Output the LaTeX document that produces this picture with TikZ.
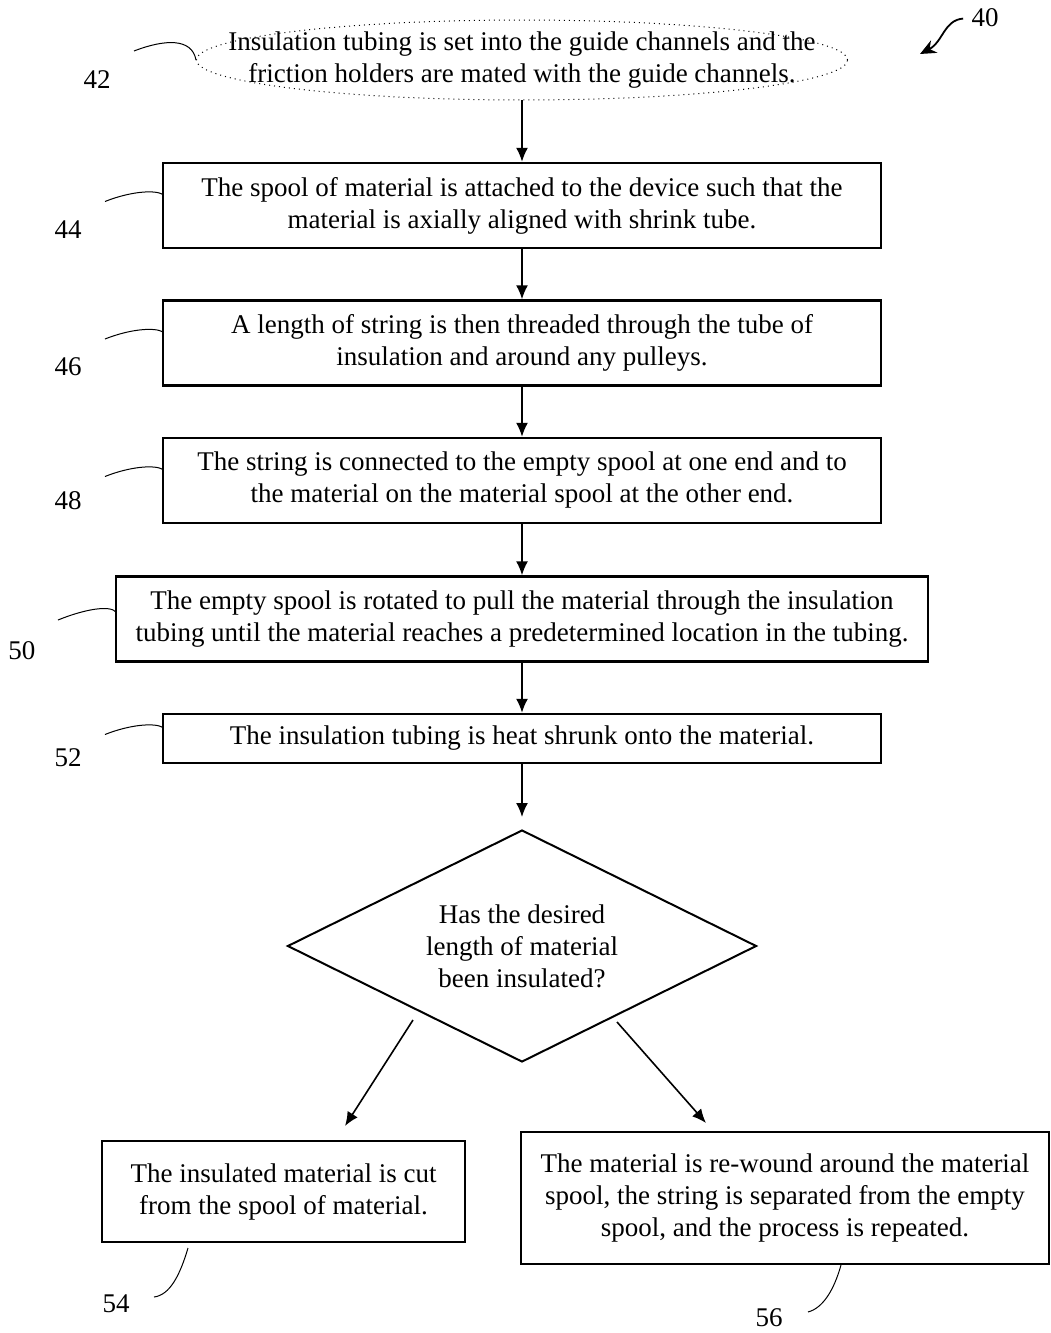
\documentclass[tikz,border=0pt]{standalone}
\usepackage{fontspec}
\setmainfont{Liberation Serif}
\usetikzlibrary{shapes.geometric,arrows.meta}

\tikzset{
  stepbox/.style={draw,line width=1.2pt,align=center,minimum height=42.5pt,
    font=\fontsize{13.5}{16}\selectfont},
  startnode/.style={draw,ellipse,dotted,line width=0.5pt,align=center,
    inner xsep=-50pt,inner ysep=0pt,minimum width=325.5pt,minimum height=39pt,
    font=\fontsize{13.5}{16}\selectfont},
  decision/.style={draw,diamond,line width=1pt,align=center,inner sep=0pt,aspect=2,
    minimum width=234.5pt,minimum height=116pt,font=\fontsize{13.5}{16}\selectfont},
  flow/.style={-{Latex[length=7pt,width=6pt]},line width=0.8pt},
  lead/.style={line width=0.5pt},
  refnum/.style={font=\fontsize{13.5}{14}\selectfont,inner sep=0pt}
}

\begin{document}
\begin{tikzpicture}[x=0.5pt,y=-0.5pt]
  \useasboundingbox (0,0) rectangle (1050,1333);

  \node[startnode] (n42) at (522,60)
    {Insulation tubing is set into the guide channels and the\\friction holders are mated with the guide channels.};
  \node[stepbox,minimum width=359pt] (n44) at (522,205.5)
    {The spool of material is attached to the device such that the\\material is axially aligned with shrink tube.};
  \node[stepbox,minimum width=359pt] (n46) at (522,343)
    {A length of string is then threaded through the tube of\\insulation and around any pulleys.};
  \node[stepbox,minimum width=359pt] (n48) at (522,480.5)
    {The string is connected to the empty spool at one end and to\\the material on the material spool at the other end.};
  \node[stepbox,minimum width=406pt] (n50) at (522,619)
    {The empty spool is rotated to pull the material through the insulation\\tubing until the material reaches a predetermined location in the tubing.};
  \node[stepbox,minimum width=359pt,minimum height=24.5pt] (n52) at (522,738.5)
    {The insulation tubing is heat shrunk onto the material.};
  \node[decision] (q) at (522,946)
    {Has the desired\\length of material\\been insulated?};
  \node[stepbox,minimum width=181.5pt,minimum height=50.5pt] (n54) at (283.5,1191.5)
    {The insulated material is cut\\from the spool of material.};
  \node[stepbox,minimum width=264pt,minimum height=66pt] (n56) at (785,1198)
    {The material is re-wound around the material\\spool, the string is separated from the empty\\spool, and the process is repeated.};

  % flow
  \foreach \from/\to in {n42/n44,n44/n46,n46/n48,n48/n50,n50/n52}
    \draw[flow] (\from) -- (\to);
  \draw[flow,shorten >=6pt] (n52) -- (q);
  \coordinate (qa) at (413,1020);
  \coordinate (qb) at (345,1126);
  \coordinate (qc) at (617,1022);
  \coordinate (qd) at (706,1123);
  \draw[flow] (qa) -- (qb);
  \draw[flow] (qc) -- (qd);

  % reference numerals
  \node[refnum] (r40) at (985,18) {40};
  \node[refnum] (r42) at (97,80) {42};
  \node[refnum] (r44) at (68,230) {44};
  \node[refnum] (r46) at (68,367) {46};
  \node[refnum] (r48) at (68,501) {48};
  \node[refnum] (r50) at (22,651) {50};
  \node[refnum] (r52) at (68,758) {52};
  \node[refnum] (r54) at (116,1304) {54};
  \node[refnum] (r56) at (769,1318) {56};

  \draw[line width=0.9pt,shorten <=4pt,-{Stealth[length=8pt,width=7pt]}]
    (r40.west) .. controls (944,20) and (943,42) .. (920,54);
  \draw[lead] (134,51) .. controls (165,39) and (192,38) .. (n42.west);
  \foreach \n/\y in {44/205.5,46/343,48/480.5,52/738.5}
    \draw[lead] (105,\y-4) .. controls (130,\y-14) and (155,\y-16) .. (163,\y-11);
  \draw[lead] (58,620) .. controls (85,609) and (110,605) .. (116,612);
  \draw[lead] (154,1297) .. controls (170,1295) and (180,1275) .. (188,1248);
  \draw[lead] (808,1312) .. controls (823,1308) and (834,1290) .. (841,1265);
\end{tikzpicture}
\end{document}
